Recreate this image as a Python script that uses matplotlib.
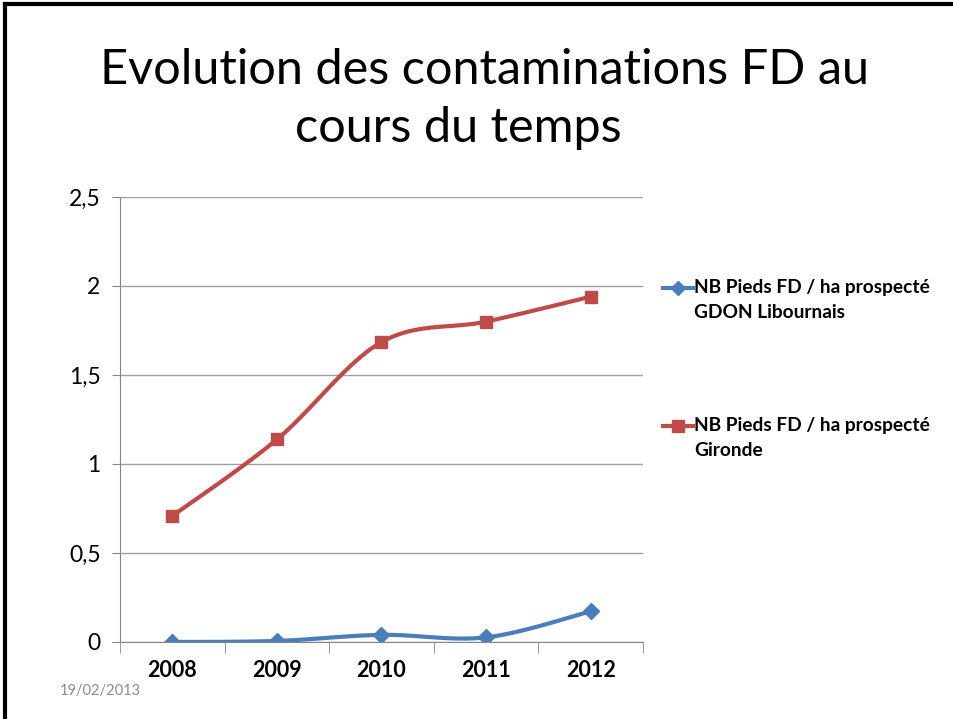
import numpy as np
import matplotlib.pyplot as plt
from matplotlib.lines import Line2D

annees = ['2008', '2009', '2010', '2011', '2012']
gdon = [0.0, 0.006, 0.04, 0.026, 0.172]
gironde = [0.708, 1.138, 1.685, 1.80, 1.94]
yticks = [0, 0.5, 1, 1.5, 2, 2.5]
ylabels = ['0', '0,5', '1', '1,5', '2', '2,5']
noms = [('NB Pieds FD / ha prospecté', 'GDON Libournais'),
        ('NB Pieds FD / ha prospecté', 'Gironde')]

bleu = '#4a7ebb'
rouge = '#be4b48'
plt.rcParams['font.family'] = ['Lato', 'DejaVu Sans']


def lisse(x, y, n=30):
    # courbe lissee facon Excel (Catmull-Rom)
    x = np.asarray(x, float)
    y = np.asarray(y, float)
    px = np.concatenate([[x[0]], x, [x[-1]]])
    py = np.concatenate([[y[0]], y, [y[-1]]])
    xs, ys = [], []
    for i in range(1, len(px) - 2):
        t = np.linspace(0, 1, n)
        for p, out in ((px, xs), (py, ys)):
            p0, p1, p2, p3 = p[i - 1], p[i], p[i + 1], p[i + 2]
            c1 = p1 + (p2 - p0) / 6
            c2 = p2 - (p3 - p1) / 6
            out.extend((1 - t) ** 3 * p1 + 3 * (1 - t) ** 2 * t * c1
                       + 3 * (1 - t) * t ** 2 * c2 + t ** 3 * p2)
    return xs, ys


fig = plt.figure(figsize=(9.54, 7.19), dpi=100)
ax = fig.add_axes([120 / 954, 1 - 642 / 719, 523 / 954, 445 / 719])

x = np.arange(len(annees))
xs, ys = lisse(x, gdon)
ax.plot(xs, ys, color=bleu, lw=3, solid_capstyle='round')
ax.plot(x, gdon, ls='none', marker='D', ms=8, color=bleu)
xs, ys = lisse(x, gironde)
ax.plot(xs, ys, color=rouge, lw=3, solid_capstyle='round')
ax.plot(x, gironde, ls='none', marker='s', ms=9, color=rouge)

ax.set_xlim(-0.5, 4.5)
ax.set_ylim(0, 2.5)
ax.set_yticks(yticks)
ax.set_yticklabels(ylabels, fontsize=16.5)
ax.set_xticks(x)
ax.set_xticklabels(annees, fontsize=15.5, fontweight='bold')
ax.set_xticks(np.arange(-0.5, 5, 1), minor=True)
ax.tick_params(axis='x', which='major', length=0, pad=13)
ax.tick_params(axis='x', which='minor', length=8, color='#868686', direction='out')
ax.tick_params(axis='y', length=6, color='#868686', pad=8)
ax.grid(axis='y', color='#a0a0a0', lw=1)
ax.set_axisbelow(True)
for s in ['top', 'right']:
    ax.spines[s].set_visible(False)
for s in ['left', 'bottom']:
    ax.spines[s].set_color('#868686')

# legende a droite, posee a la main
H, W = 719, 954
for (l1, l2), c, m, ms, y0 in zip(noms, [bleu, rouge], ['D', 's'], [7, 8], [288, 426]):
    fig.add_artist(Line2D([663 / W, 693 / W], [1 - y0 / H] * 2, color=c, lw=3))
    fig.add_artist(Line2D([678 / W], [1 - y0 / H], color=c, marker=m, ms=ms))
    fig.text(694 / W, 1 - y0 / H, l1, fontsize=13.8, fontweight='bold', va='center')
    fig.text(694 / W, 1 - (y0 + 25) / H, l2, fontsize=13.8, fontweight='bold', va='center')

fig.text(485 / W, 1 - 70 / H, 'Evolution des contaminations FD au',
         ha='center', va='center', fontsize=35)
fig.text(458 / W, 1 - 128 / H, 'cours du temps',
         ha='center', va='center', fontsize=35)
fig.text(60 / W, 1 - 691 / H, '19/02/2013', fontsize=10.5, color='#8b8b8b',
         va='center')

# cadre de la diapositive
fig.add_artist(Line2D([5 / W, 1], [1 - 4 / H, 1 - 4 / H], color='black', lw=3))
fig.add_artist(Line2D([5 / W, 5 / W], [0, 1 - 4 / H], color='black', lw=3))

fig.savefig('out.png', dpi=100)
